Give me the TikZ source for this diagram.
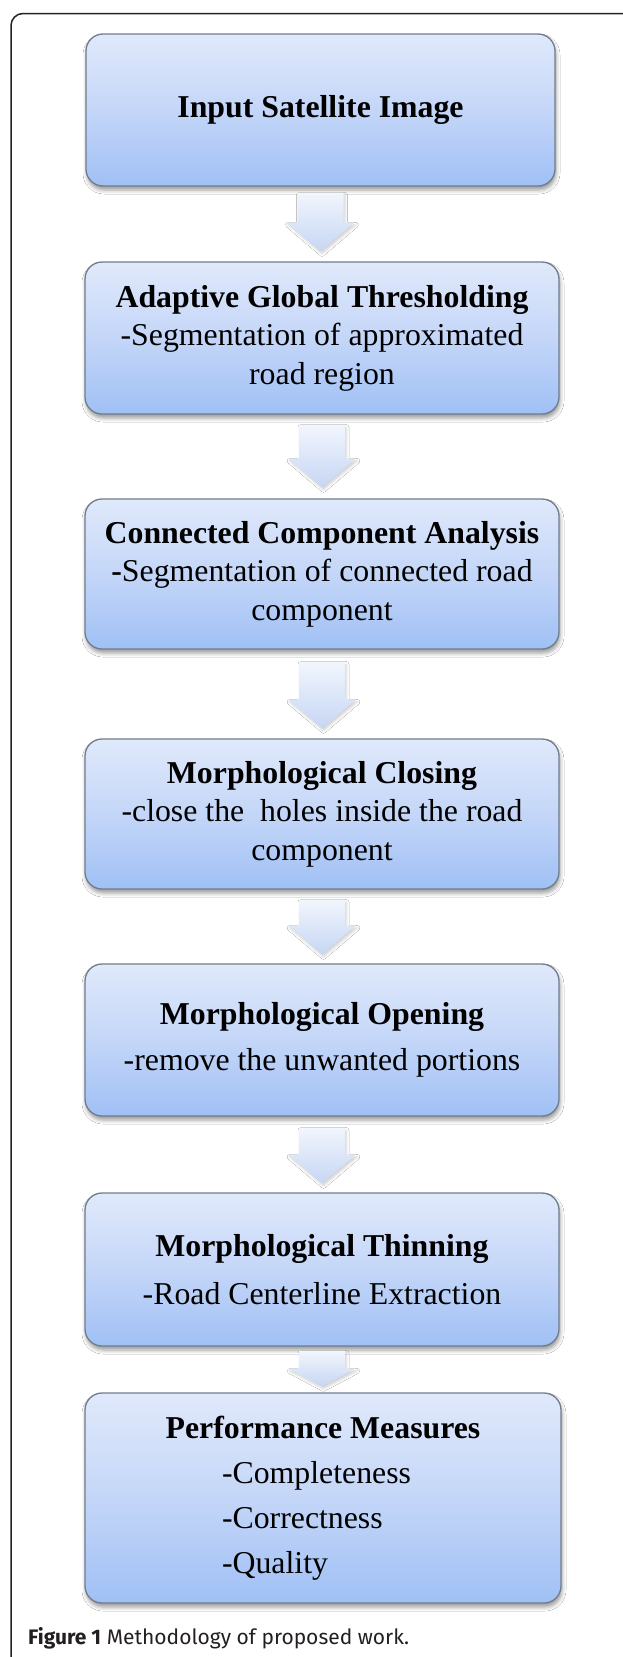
\documentclass[tikz,border=0pt]{standalone}
\usepackage{fontspec}
\setmainfont{Liberation Serif}
\newfontfamily\capfont{Fira Sans}
\usetikzlibrary{shadows.blur,calc}

\definecolor{boxtop}{RGB}{224,233,251}
\definecolor{boxmid}{RGB}{196,214,248}
\definecolor{boxbot}{RGB}{160,192,245}
\definecolor{boxedge}{RGB}{112,124,140}
\definecolor{arrtop}{RGB}{242,246,253}
\definecolor{arrbot}{RGB}{198,214,244}
\definecolor{framecol}{RGB}{35,35,35}
\definecolor{captext}{RGB}{35,31,32}

\tikzset{
  stepbox/.style={draw=boxedge, line width=1.3pt, rounded corners=17pt,
    top color=boxtop, bottom color=boxbot, middle color=boxmid,
    minimum width=474pt, minimum height=150pt, inner sep=0pt, align=center,
    font=\fontsize{31.8}{38.5}\selectfont,
    blur shadow={shadow xshift=1pt, shadow yshift=-4pt,
      shadow blur radius=4pt, shadow opacity=40}},
  blockarrow/.style={top color=arrtop, bottom color=arrbot, draw=none,
    blur shadow={shadow xshift=1.5pt, shadow yshift=-2.5pt,
      shadow blur radius=2.5pt, shadow opacity=18}},
  framerule/.style={draw=framecol, line width=1.5pt, rounded corners=12pt},
}

% block arrow between two steps: [head length]{from}{to}{top gap}{bottom gap}
\newcommand\flowarrow[5][29]{%
  \path[blockarrow] let \p1=(#2.south), \p2=(#3.north) in
    (\x1-23pt,\y1-#4pt) -- (\x1+23pt,\y1-#4pt)
    -- (\x1+23pt,\y2+#5pt+#1pt) -- (\x1+34pt,\y2+#5pt+#1pt)
    -- (\x1,\y2+#5pt)
    -- (\x1-34pt,\y2+#5pt+#1pt) -- (\x1-23pt,\y2+#5pt+#1pt) -- cycle;}

\begin{document}
\begin{tikzpicture}[x=1pt,y=-1pt]
\useasboundingbox[fill=white] (0,0) rectangle (622,1657);

% outer frame (top and left sides only)
\draw[framerule] (11,1680) -- (11,13.5) -- (650,13.5);

% steps
\node[stepbox, minimum width=469pt, minimum height=152pt] (s1) at (320.5,110)
  {\textbf{Input Satellite Image}};
\node[stepbox, minimum height=152pt] (s2) at (322,338)
  {\textbf{Adaptive Global Thresholding}\\-Segmentation of approximated\\road region};
\node[stepbox] (s3) at (322,574)
  {\textbf{Connected Component Analysis}\\\textbf{-}Segmentation of connected road\\component};
\node[stepbox] (s4) at (322,814)
  {\textbf{Morphological Closing}\\-close the\ \ holes inside the road\\component};
\node[stepbox, minimum height=152pt] (s5) at (322,1040)
  {\textbf{Morphological Opening}\\[7pt]-remove the unwanted portions};
\node[stepbox, minimum height=153pt] (s6) at (322,1269.5)
  {\textbf{Morphological Thinning}\\[10pt]-Road Centerline Extraction};
\node[stepbox, minimum height=210pt, minimum width=476pt] (s7) at (323,1498)
  {\textbf{Performance Measures}\\[6.5pt]
   \makebox[202pt][l]{-Completeness}\\[6.5pt]
   \makebox[202pt][l]{-Correctness}\\[6.5pt]
   \makebox[202pt][l]{-Quality}};

% arrows between steps
\flowarrow{s1}{s2}{6}{10}
\flowarrow{s2}{s3}{10}{11}
\flowarrow{s3}{s4}{12}{10}
\flowarrow{s4}{s5}{10}{9}
\flowarrow{s5}{s6}{11}{9}
\flowarrow[18]{s6}{s7}{4}{6}

% caption
\node[anchor=base west, inner sep=0pt, text=captext,
      font=\capfont\fontsize{21}{25}\selectfont] (cap) at (28,1644)
  {\textbf{Figure 1} Methodology of proposed work.};
\end{tikzpicture}
\end{document}
